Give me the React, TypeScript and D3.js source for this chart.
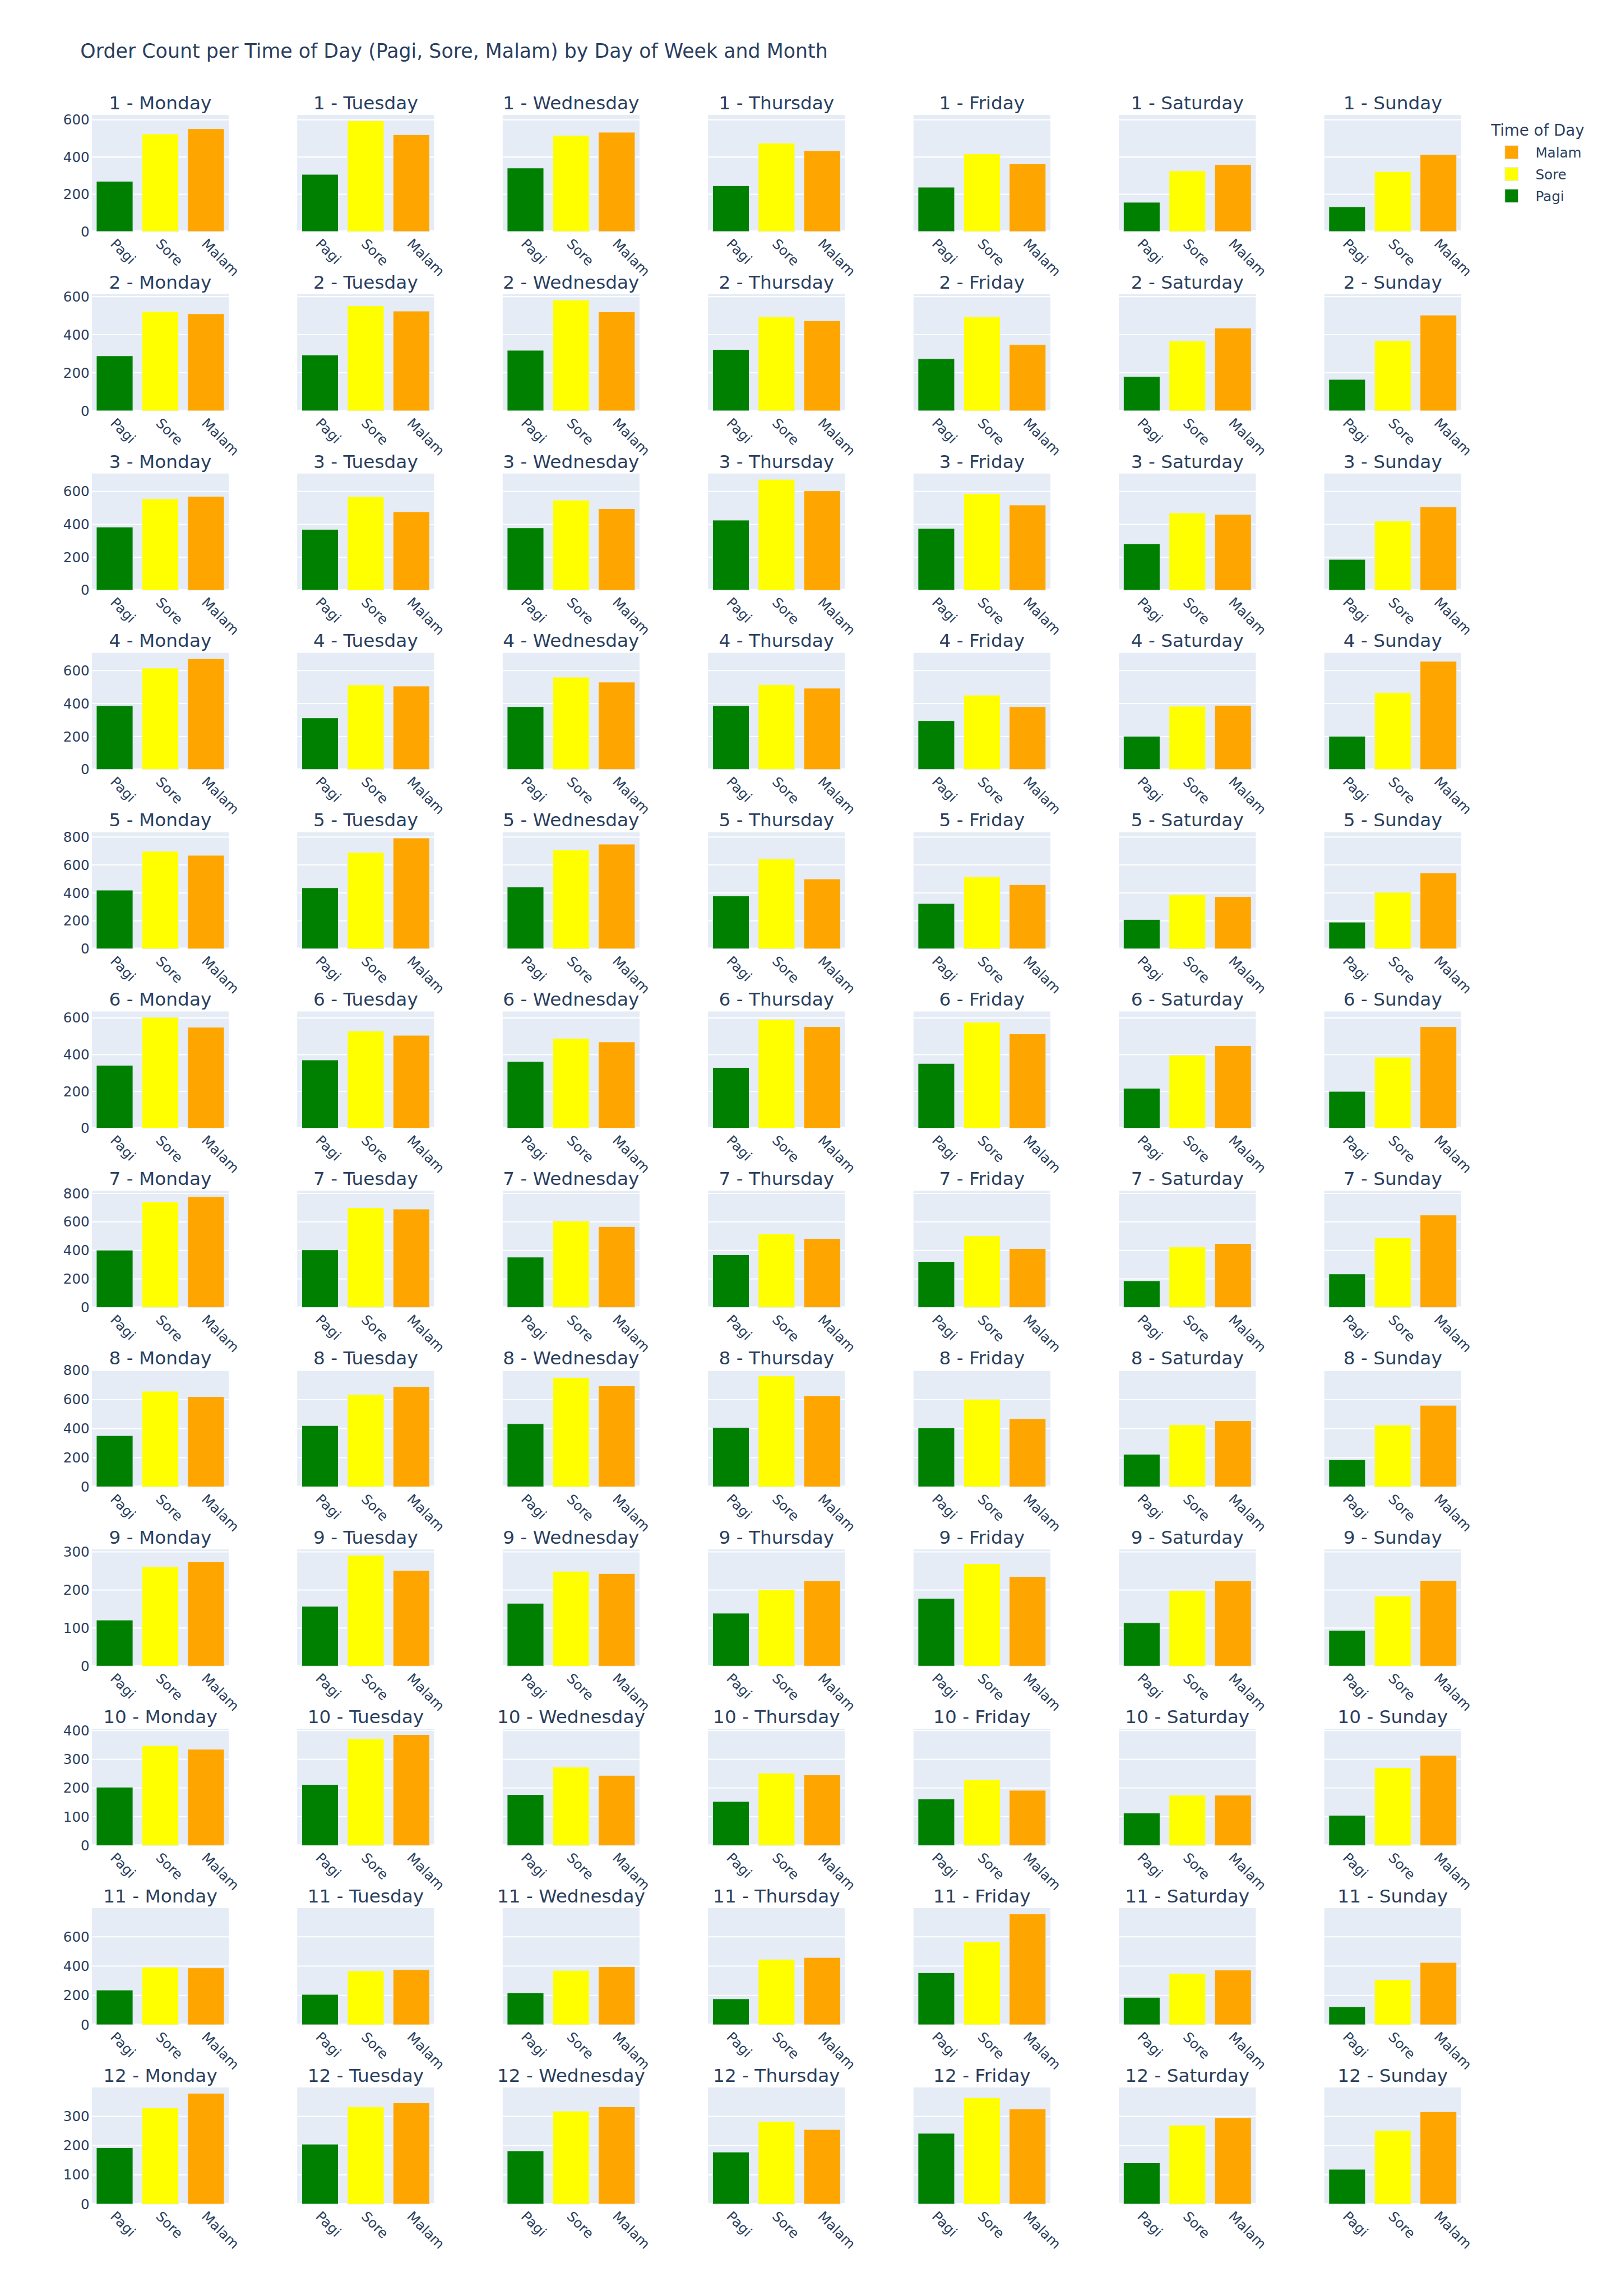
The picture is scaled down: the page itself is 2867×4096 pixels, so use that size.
import * as d3 from 'd3';

// bulan 1..12 (baris), hari (kolom), waktu (kategori)
const months = [1, 2, 3, 4, 5, 6, 7, 8, 9, 10, 11, 12];
const days = ['Monday', 'Tuesday', 'Wednesday', 'Thursday', 'Friday', 'Saturday', 'Sunday'];
const times = ['Pagi', 'Sore', 'Malam'];
const timeColors = ['green', 'yellow', 'orange'];

const pagi = [
  [270, 307, 341, 246, 238, 157, 133],
  [289, 293, 318, 322, 274, 180, 165],
  [384, 370, 379, 426, 375, 282, 187],
  [387, 313, 381, 387, 296, 201, 201],
  [420, 437, 442, 379, 324, 210, 191],
  [342, 371, 363, 330, 352, 217, 200],
  [402, 404, 353, 370, 322, 187, 235],
  [352, 421, 434, 407, 405, 224, 186],
  [121, 157, 165, 139, 178, 114, 94],
  [203, 212, 177, 153, 162, 113, 105],
  [237, 207, 218, 177, 355, 187, 123],
  [193, 205, 182, 178, 242, 141, 119],
];

const sore = [
  [524, 595, 516, 475, 417, 326, 322],
  [522, 552, 582, 493, 493, 367, 369],
  [557, 569, 548, 674, 587, 470, 420],
  [615, 513, 560, 515, 451, 384, 466],
  [698, 690, 707, 643, 514, 387, 404],
  [603, 528, 489, 591, 576, 397, 386],
  [740, 699, 606, 516, 502, 424, 488],
  [657, 635, 752, 762, 602, 427, 425],
  [261, 291, 249, 200, 269, 198, 184],
  [348, 372, 273, 252, 229, 175, 271],
  [393, 368, 371, 447, 565, 349, 308],
  [329, 333, 318, 283, 364, 270, 252],
];

const malam = [
  [552, 520, 533, 434, 363, 359, 413],
  [510, 524, 520, 473, 348, 435, 503],
  [571, 477, 496, 604, 518, 461, 506],
  [672, 506, 530, 493, 381, 389, 656],
  [669, 793, 749, 500, 459, 373, 543],
  [549, 505, 469, 552, 513, 449, 552],
  [777, 690, 567, 483, 413, 448, 648],
  [620, 689, 694, 626, 468, 454, 560],
  [274, 251, 243, 224, 235, 224, 225],
  [335, 386, 244, 246, 192, 175, 314],
  [388, 376, 396, 459, 756, 373, 425],
  [379, 346, 333, 255, 325, 295, 316],
];

const series = [pagi, sore, malam];

// layout dalam satuan plotly (viewBox 1400 x 2000)
const W = 1400;
const H = 2000;
const margin = { left: 80, top: 100 };
const gridW = 1193;
const gridH = 1820;
const hSpace = 0.05;
const vSpace = 0.03;
const colW = (gridW * (1 - hSpace * (days.length - 1))) / days.length;
const rowH = (gridH * (1 - vSpace * (months.length - 1))) / months.length;

const textColor = '#2a3f5f';
const bgColor = '#E5ECF6';
const font = '"DejaVu Sans", Verdana, sans-serif';

export default function App() {
  // posisi kolom dan baris sesuai domain subplot
  const colLeft = (c: number) => margin.left + c * (colW + gridW * hSpace);
  const rowTop = (r: number) => margin.top + r * (rowH + gridH * vSpace);

  const legendOrder = [2, 1, 0];

  return (
    <svg
      width={2867}
      height={4096}
      viewBox={`0 0 ${W} ${H}`}
      style={{ position: 'absolute', left: 0, top: 0, display: 'block', background: '#fff' }}
      fontFamily={font}
    >
      <rect x={0} y={0} width={W} height={H} fill="#fff" />
      <text x={70} y={50} fontSize={17} fill={textColor}>
        Order Count per Time of Day (Pagi, Sore, Malam) by Day of Week and Month
      </text>

      {months.map((m, r) => {
        const rowMax = d3.max(series.flatMap((s) => s[r])) || 1;
        const top = rowTop(r);
        const bottom = top + rowH;
        const y = d3
          .scaleLinear()
          .domain([0, rowMax / 0.95])
          .range([bottom, top]);
        const ticks = y.ticks(4);

        return (
          <g key={m}>
            {days.map((day, c) => {
              const left = colLeft(c);
              const x = d3
                .scaleBand<string>()
                .domain(times)
                .range([left, left + colW])
                .padding(0.2)
                .paddingOuter(0.1);
              return (
                <g key={day}>
                  <rect x={left} y={top} width={colW} height={rowH} fill={bgColor} />
                  {ticks.map((t) => (
                    <line
                      key={t}
                      x1={left}
                      x2={left + colW}
                      y1={y(t)}
                      y2={y(t)}
                      stroke="#fff"
                      strokeWidth={t === 0 ? 2 : 1}
                    />
                  ))}
                  {times.map((t, k) => {
                    const v = series[k][r][c];
                    return (
                      <rect
                        key={t}
                        x={x(t)}
                        y={y(v)}
                        width={x.bandwidth()}
                        height={bottom - y(v)}
                        fill={timeColors[k]}
                        stroke={bgColor}
                        strokeWidth={0.5}
                      />
                    );
                  })}
                  {times.map((t) => (
                    <text
                      key={t}
                      transform={`translate(${(x(t) || 0) + x.bandwidth() / 2 - 1.5},${bottom + 8.5}) rotate(45)`}
                      dy="0.35em"
                      fontSize={12}
                      fill={textColor}
                      textAnchor="start"
                    >
                      {t}
                    </text>
                  ))}
                  <text
                    x={left + colW / 2}
                    y={top - 5}
                    fontSize={16}
                    fill={textColor}
                    textAnchor="middle"
                  >
                    {`${m} - ${day}`}
                  </text>
                  {c === 0 &&
                    ticks.map((t) => (
                      <text
                        key={t}
                        x={left - 2}
                        y={y(t)}
                        dy="0.35em"
                        fontSize={12}
                        fill={textColor}
                        textAnchor="end"
                      >
                        {t}
                      </text>
                    ))}
                </g>
              );
            })}
          </g>
        );
      })}

      {/* legenda */}
      <g>
        <text x={1299} y={118.3} fontSize={13.5} fill={textColor}>
          Time of Day
        </text>
        {legendOrder.map((k, i) => (
          <g key={times[k]}>
            <rect
              x={1311}
              y={126.7 + i * 19}
              width={11.7}
              height={11.7}
              fill={timeColors[k]}
              stroke={bgColor}
              strokeWidth={0.5}
            />
            <text x={1337.7} y={137.3 + i * 19} fontSize={12} fill={textColor}>
              {times[k]}
            </text>
          </g>
        ))}
      </g>
    </svg>
  );
}
